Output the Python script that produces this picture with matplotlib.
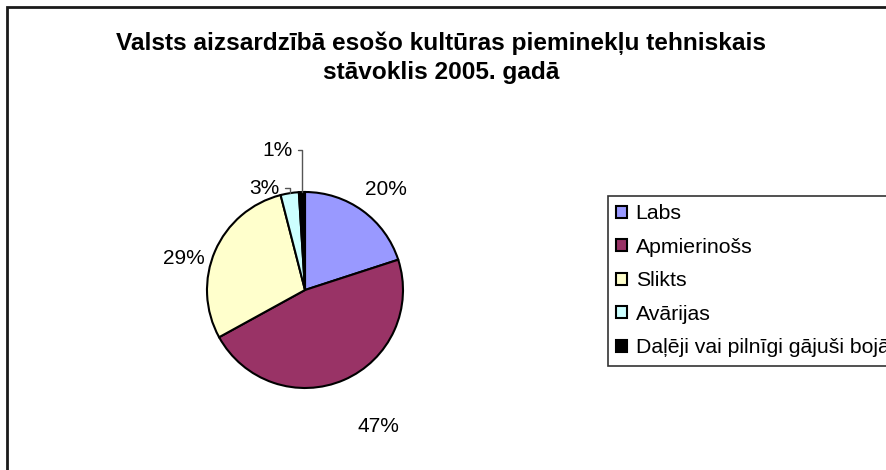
import numpy as np
import matplotlib.pyplot as plt
from matplotlib.patches import Rectangle

plt.rcParams['font.family'] = ['Liberation Sans', 'DejaVu Sans']

title = "Valsts aizsardzībā esošo kultūras pieminekļu tehniskais\nstāvoklis 2005. gadā"
categories = ["Labs", "Apmierinošs", "Slikts", "Avārijas", "Daļēji vai pilnīgi gājuši bojā"]
shares = [20, 47, 29, 3, 1]
colors = ["#9999FF", "#993366", "#FFFFCC", "#CCFFFF", "#000000"]


def main():
    W, H = 887, 470
    fig = plt.figure(figsize=(W / 100, H / 100), dpi=100)
    ax = fig.add_axes([0, 0, 1, 1])

    # outer chart frame (runs off the right and bottom edges)
    fig.patches.append(Rectangle((7, -20), W + 40, H - 7 + 20, transform=None,
                                 fill=False, edgecolor="#1a1a1a", lw=2))

    cx, cy, r = 305, 180, 98
    wedges, _ = ax.pie(shares, startangle=90, counterclock=False, colors=colors,
                       center=(cx, cy), radius=r, frame=True,
                       wedgeprops=dict(edgecolor="black", linewidth=1.5))
    ax.set_xlim(0, W)
    ax.set_ylim(0, H)
    ax.set_aspect("auto")
    ax.axis("off")

    # label distance factors (relative to radius); small slices get leaders
    dist = [1.32, 1.58, 1.28, None, None]
    angoff = [-3, 5, 9, 0, 0]
    lead = [None, None, None, (-10, 5), (-9, 42)]
    for w, v, d, a, ld in zip(wedges, shares, dist, angoff, lead):
        mid = np.deg2rad((w.theta1 + w.theta2) / 2 + a)
        txt = f"{v}%"
        if ld is None:
            ax.text(cx + d * r * np.cos(mid), cy + d * r * np.sin(mid), txt,
                    ha="center", va="center", fontsize=15)
        else:
            ex, ey = cx + r * np.cos(mid), cy + r * np.sin(mid)
            ax.annotate(txt, xy=(ex, ey), xytext=(ex + ld[0], ey + ld[1]),
                        ha="right", va="center", fontsize=15,
                        arrowprops=dict(arrowstyle="-", color="#555555", lw=1,
                                        shrinkA=2, shrinkB=0,
                                        connectionstyle="angle,angleA=0,angleB=90,rad=0"))

    fig.text(441 / W, 1 - 58 / H, title, ha="center", va="center",
             fontsize=17.6, fontweight="bold", linespacing=1.35)

    leg = fig.legend(wedges, categories, loc="upper left",
                     bbox_to_anchor=(608 / W, 1 - 196 / H), borderaxespad=0,
                     fontsize=15.3, frameon=True, fancybox=False, framealpha=1,
                     edgecolor="#333333", handlelength=0.5, handleheight=0.5,
                     handletextpad=0.4, labelspacing=0.68, borderpad=0.4)
    leg.get_frame().set_linewidth(1.2)

    plt.savefig("out.png", dpi=100)


if __name__ == "__main__":
    main()
